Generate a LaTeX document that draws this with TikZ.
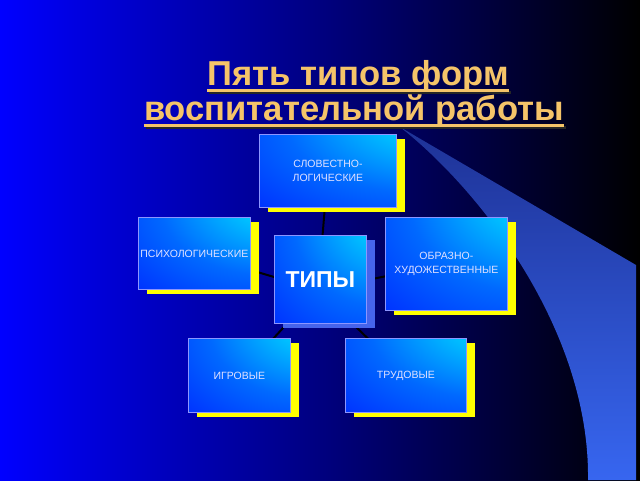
\documentclass[tikz,border=0pt]{standalone}
\usepackage{fontspec}
\setmainfont{Liberation Sans}
\usetikzlibrary{shadows}
\pgfdeclarelayer{bg}
\pgfdeclarelayer{lines}
\pgfsetlayers{bg,lines,main}
\definecolor{titlecol}{RGB}{245,196,105}
\definecolor{bgblue}{RGB}{0,0,255}
\definecolor{swtop}{RGB}{30,50,150}
\definecolor{swbot}{RGB}{55,102,240}
\definecolor{boxca}{RGB}{20,225,255}
\definecolor{boxcab}{RGB}{0,195,255}
\definecolor{boxcb}{RGB}{0,105,255}
\definecolor{boxcc}{RGB}{0,30,255}
\definecolor{boxcd}{RGB}{0,8,228}
\definecolor{boxline}{RGB}{140,150,255}
\definecolor{boxtext}{RGB}{225,225,255}
\definecolor{shadowyellow}{RGB}{255,255,0}
\definecolor{shadowblue}{RGB}{70,100,235}
\pgfdeclareradialshading{boxshade}{\pgfpoint{50bp}{50bp}}{color(0bp)=(boxca); color(24bp)=(boxcab); color(48bp)=(boxcb); color(80bp)=(boxcc); color(142bp)=(boxcd)}
\tikzset{
  typebox/.style={draw=boxline, line width=0.8pt, shading=boxshade, inner sep=0pt,
    anchor=north west, align=center, text=boxtext,
    font=\fontsize{10.5}{14}\selectfont,
    drop shadow={shadow xshift=9pt, shadow yshift=-5pt, fill=shadowyellow, opacity=1}},
  centerbox/.style={typebox, font=\bfseries\fontsize{23}{26}\selectfont, text=white,
    drop shadow={shadow xshift=9pt, shadow yshift=-5pt, fill=shadowblue, opacity=1}},
  link/.style={draw=black, line width=2pt},
  titletext/.style={text=titlecol, font=\bfseries\fontsize{34.6}{40}\selectfont, inner sep=0pt, anchor=base},
  uline/.style={titlecol, line width=2.5pt},
  ulineshadow/.style={black!85, line width=2.5pt}
}
\begin{document}
\begin{tikzpicture}[x=1pt,y=-1pt]
\useasboundingbox (0,0) rectangle (640,480);
\begin{pgfonlayer}{bg}
  \shade[left color=bgblue, right color=black] (0,0) rectangle (640,480);
  \shade[top color=swtop, bottom color=swbot]
    (400,127) -- (636,265) -- (636,480) -- (588,480)
    .. controls (590,330) and (480,190) .. (400,127) -- cycle;
\end{pgfonlayer}

% title
\node[titletext] (t1) at (358,85) {Пять типов форм};
\node[titletext] (t2) at (354,120) {воспитательной работы};
\draw[ulineshadow] ([xshift=2pt,yshift=-7.5pt]t1.base west) -- ([xshift=2pt,yshift=-7.5pt]t1.base east);
\draw[ulineshadow] ([xshift=2pt,yshift=-7.5pt]t2.base west) -- ([xshift=2pt,yshift=-7.5pt]t2.base east);
\draw[uline] ([yshift=-5.5pt]t1.base west) -- ([yshift=-5.5pt]t1.base east);
\draw[uline] ([yshift=-5.5pt]t2.base west) -- ([yshift=-5.5pt]t2.base east);

% boxes
\node[typebox, minimum width=137pt, minimum height=73pt] (slov) at (259,134) {СЛОВЕСТНО-\\ЛОГИЧЕСКИЕ};
\node[typebox, minimum width=112pt, minimum height=72pt] (psy) at (138,217) {ПСИХОЛОГИЧЕСКИЕ};
\node[typebox, minimum width=122pt, minimum height=93pt] (obr) at (385,217) {ОБРАЗНО-\\ХУДОЖЕСТВЕННЫЕ};
\node[typebox, minimum width=102pt, minimum height=74pt] (igr) at (188,338) {ИГРОВЫЕ};
\node[typebox, minimum width=121pt, minimum height=74pt] (trud) at (345,338) {ТРУДОВЫЕ};
\node[centerbox, minimum width=92pt, minimum height=88pt] (tipy) at (274,235) {ТИПЫ};
\coordinate (hub) at (318,290);

% connectors (behind the boxes)
\begin{pgfonlayer}{lines}
  \draw[link] (hub) -- (slov.center);
  \draw[link] (hub) -- (psy.center);
  \draw[link] (hub) -- (obr.center);
  \draw[link] (hub) -- (igr.center);
  \draw[link] (hub) -- (trud.center);
\end{pgfonlayer}
\end{tikzpicture}
\end{document}
